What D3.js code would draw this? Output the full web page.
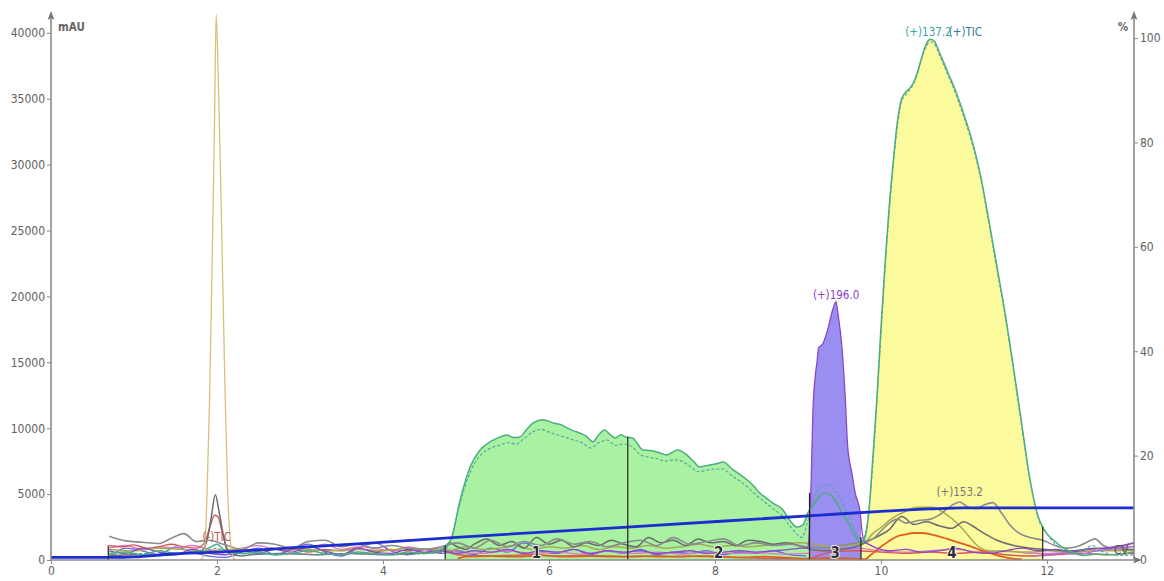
<!DOCTYPE html>
<html>
<head>
<meta charset="utf-8">
<script src="https://cdn.jsdelivr.net/npm/d3@7"></script>
<style>
  body { margin: 0; background: #ffffff; }
  svg { display: block; font-family: "DejaVu Sans Condensed", "DejaVu Sans", sans-serif; }
</style>
</head>
<body>
<svg id="chart" width="1164" height="581"></svg>
<script>
// ---- axis settings (values) ----
const timeTicks = [0, 2, 4, 6, 8, 10, 12];
const mauTicks = [0, 5000, 10000, 15000, 20000, 25000, 30000, 35000, 40000];
const pctTicks = [0, 20, 40, 60, 80, 100];

// ---- fractions ----
const fractionBounds = [0.69, 4.75, 6.95, 9.14, 9.76, 11.95];
const fractionMarkHeights = [1100, 1100, 9350, 5100, 1750, 2500];
const fractionLabels = ["1", "2", "3", "4"];

// ---- solvent gradient, % B ----
const gradient = [[0, 0.5], [0.75, 0.5], [1.0, 0.6], [1.47, 1.15], [2.28, 1.7], [3.08, 2.5], [3.88, 3.3], [4.93, 4.4],
  [6.94, 6.3], [9.27, 8.6], [10.0, 9.3], [10.6, 9.8], [11.0, 10.0], [13.05, 10.0]];

// ---- UV spike (254 nm) ----
const uvTrace = [[1.80, 0], [1.84, 300], [1.86, 1500], [1.88, 5000], [1.91, 12000], [1.94, 22000], [1.97, 33000],
  [1.99, 41400], [2.01, 38000], [2.04, 30000], [2.07, 21000], [2.10, 12000], [2.13, 5000], [2.16, 1500], [2.19, 300], [2.22, 0]];

// ---- (+)TIC, solid ----
const ticPos = [[0.7, 500], [0.9, 600], [1.1, 400], [1.3, 700], [1.5, 500], [1.7, 600], [1.9, 900], [2.0, 1200], [2.1, 700],
  [2.3, 500], [2.5, 600], [2.7, 400], [2.9, 500], [3.1, 700], [3.3, 500], [3.5, 400], [3.7, 600], [3.9, 500], [4.1, 400],
  [4.3, 600], [4.5, 500], [4.7, 800], [4.75, 1000], [4.83, 1750], [4.93, 4550], [5.05, 7060], [5.17, 8350], [5.29, 8960],
  [5.4, 9300], [5.49, 9490], [5.57, 9300], [5.65, 9340], [5.73, 9900], [5.81, 10400], [5.93, 10650], [6.05, 10400],
  [6.13, 10300], [6.22, 10020], [6.3, 9800], [6.37, 9640], [6.45, 9400], [6.53, 8960], [6.6, 9500], [6.67, 9870],
  [6.74, 9500], [6.8, 9260], [6.87, 9500], [6.92, 9340], [7.01, 9260], [7.07, 8800], [7.13, 8350], [7.22, 8300],
  [7.3, 8200], [7.42, 7970], [7.55, 8350], [7.66, 7970], [7.74, 7500], [7.82, 7060], [7.94, 7210], [8.02, 7300],
  [8.1, 7440], [8.22, 6830], [8.3, 6500], [8.39, 6070], [8.47, 5600], [8.54, 5080], [8.62, 4700], [8.7, 4320],
  [8.82, 3800], [8.9, 3040], [8.99, 2500], [9.06, 2660], [9.12, 3570], [9.2, 4300], [9.27, 4900], [9.33, 5080],
  [9.4, 4900], [9.47, 4300], [9.53, 3600], [9.59, 3040], [9.66, 2200], [9.72, 1520], [9.78, 1300], [9.82, 2000],
  [9.86, 4000], [9.9, 7500], [9.95, 12100], [10.0, 17500], [10.05, 22500], [10.1, 26800], [10.15, 30300],
  [10.2, 33300], [10.25, 35000], [10.3, 35500], [10.35, 35800], [10.4, 36300], [10.45, 37200], [10.5, 38300],
  [10.55, 39200], [10.6, 39500], [10.65, 39300], [10.7, 38600], [10.8, 37100], [10.9, 35600], [11.0, 33800],
  [11.1, 31800], [11.2, 29200], [11.3, 25800], [11.4, 22200], [11.5, 18600], [11.6, 14500], [11.7, 10200],
  [11.8, 6000], [11.9, 3200], [11.95, 2500], [12.0, 2000], [12.1, 1400], [12.2, 900], [12.3, 600], [12.45, 350],
  [12.6, 450], [12.8, 400], [12.95, 500], [13.05, 600]];

// ---- (+)137.2, dashed ----
const ion137 = [[0.7, 400], [1.0, 500], [1.3, 450], [1.6, 550], [1.9, 700], [2.0, 900], [2.1, 600], [2.4, 450], [2.8, 500],
  [3.2, 400], [3.6, 500], [4.0, 400], [4.4, 450], [4.7, 600], [4.8, 1200], [4.9, 3600], [5.0, 5800], [5.1, 7300],
  [5.2, 8100], [5.3, 8500], [5.4, 8700], [5.5, 8900], [5.6, 8800], [5.7, 9200], [5.8, 9700], [5.9, 9900], [6.0, 9700],
  [6.1, 9500], [6.2, 9300], [6.3, 9100], [6.4, 8900], [6.5, 8500], [6.6, 8900], [6.7, 9100], [6.8, 8700], [6.9, 8800],
  [7.0, 8600], [7.1, 8000], [7.2, 7800], [7.3, 7700], [7.4, 7500], [7.5, 7600], [7.6, 7500], [7.7, 7100], [7.8, 6700],
  [7.9, 6800], [8.0, 6900], [8.1, 6900], [8.2, 6400], [8.3, 6000], [8.4, 5500], [8.5, 4900], [8.6, 4400], [8.7, 3900],
  [8.8, 3400], [8.9, 2600], [9.0, 1900], [9.05, 1700], [9.1, 2500], [9.15, 3700], [9.2, 4800], [9.3, 5600], [9.36, 5750],
  [9.45, 5300], [9.55, 4200], [9.65, 2800], [9.72, 1800], [9.78, 1500], [9.84, 3000], [9.9, 7000], [9.95, 11800],
  [10.0, 17000], [10.05, 22000], [10.1, 26400], [10.15, 30000], [10.2, 33000], [10.25, 34800], [10.3, 35300],
  [10.35, 35700], [10.4, 36200], [10.45, 37100], [10.5, 38200], [10.55, 39000], [10.6, 39300], [10.65, 39100],
  [10.7, 38400], [10.8, 36900], [10.9, 35400], [11.0, 33600], [11.1, 31600], [11.2, 29000], [11.3, 25600],
  [11.4, 22000], [11.5, 18400], [11.6, 14300], [11.7, 10000], [11.8, 5900], [11.9, 3100], [12.0, 2000], [12.1, 1200],
  [12.2, 700], [12.3, 500], [12.45, 800], [12.55, 1100], [12.65, 700], [12.8, 400], [12.95, 350], [13.05, 400]];

// ---- (+)196.0 ----
const ion196 = [[0.7, 700], [0.9, 500], [1.1, 900], [1.3, 600], [1.5, 400], [1.7, 800], [1.9, 500], [2.1, 400], [2.3, 700],
  [2.5, 500], [2.7, 800], [2.9, 600], [3.1, 1000], [3.3, 700], [3.5, 400], [3.7, 900], [3.9, 600], [4.1, 500], [4.3, 800],
  [4.5, 600], [4.7, 700], [4.9, 500], [5.1, 700], [5.3, 600], [5.5, 800], [5.7, 500], [5.9, 700], [6.1, 600], [6.3, 800],
  [6.5, 500], [6.7, 700], [6.9, 600], [7.1, 700], [7.3, 500], [7.5, 600], [7.7, 700], [7.9, 500], [8.1, 600], [8.3, 700],
  [8.5, 600], [8.7, 700], [8.9, 800], [9.05, 900], [9.12, 900], [9.13, 1500], [9.16, 6000], [9.18, 11100],
  [9.21, 14000], [9.23, 15000], [9.25, 16100], [9.3, 16400], [9.36, 17500], [9.42, 19000], [9.46, 19600],
  [9.48, 18800], [9.53, 16200], [9.57, 12400], [9.6, 8600], [9.65, 6600], [9.69, 5100], [9.75, 3600], [9.77, 2300],
  [9.8, 1400], [9.85, 1200], [9.95, 900], [10.1, 700], [10.3, 800], [10.5, 600], [10.7, 700], [10.9, 900], [11.1, 600],
  [11.3, 500], [11.5, 700], [11.7, 900], [11.9, 700], [12.1, 800], [12.3, 600], [12.5, 800], [12.7, 900], [12.9, 1100],
  [13.05, 1300]];

// ---- (+)153.2 ----
const ion153 = [[0.7, 1800], [0.9, 1450], [1.1, 1350], [1.3, 1250], [1.45, 1650], [1.6, 2000], [1.75, 1400], [1.9, 1500],
  [2.1, 1150], [2.3, 800], [2.5, 1300], [2.7, 1200], [2.9, 900], [3.1, 1400], [3.3, 1500], [3.5, 1000], [3.7, 1200],
  [3.9, 900], [4.1, 1100], [4.3, 900], [4.5, 800], [4.7, 1000], [4.9, 1300], [5.1, 900], [5.3, 1500], [5.5, 1000],
  [5.7, 1400], [5.9, 1100], [6.1, 1600], [6.3, 1200], [6.5, 1400], [6.7, 1000], [6.9, 1300], [7.1, 1500], [7.3, 1100],
  [7.5, 1700], [7.7, 1200], [7.9, 1400], [8.1, 1600], [8.3, 1100], [8.5, 1300], [8.7, 1100], [8.9, 1200], [9.1, 1000],
  [9.3, 900], [9.5, 1100], [9.7, 1300], [9.9, 1600], [10.0, 2200], [10.1, 2800], [10.2, 3100], [10.3, 2800],
  [10.45, 3000], [10.6, 3100], [10.7, 3400], [10.8, 3900], [10.9, 4300], [10.95, 4400], [11.05, 4000], [11.15, 3900],
  [11.25, 4200], [11.35, 4350], [11.45, 3600], [11.55, 2700], [11.65, 2100], [11.8, 1700], [11.95, 1500], [12.1, 1100],
  [12.25, 900], [12.4, 1100], [12.5, 1400], [12.58, 1600], [12.68, 1100], [12.8, 900], [12.95, 1100], [13.05, 1300]];

// ---- (-)TIC ----
const ticNeg = [[0.7, 1100], [0.85, 1000], [1.0, 1150], [1.15, 900], [1.3, 1000], [1.45, 1200], [1.6, 1000], [1.75, 900],
  [1.85, 1300], [1.92, 2600], [1.97, 3400], [2.01, 3300], [2.06, 2200], [2.12, 900], [2.2, 600], [2.35, 800], [2.5, 700],
  [2.65, 900], [2.8, 700], [2.95, 800], [3.1, 600], [3.3, 800], [3.5, 700], [3.7, 900], [3.9, 600], [4.1, 800],
  [4.3, 700], [4.5, 800], [4.7, 700], [4.9, 400], [5.2, 300], [5.5, 350], [5.8, 400], [6.1, 300], [6.4, 350], [6.7, 300],
  [7.0, 250], [7.3, 300], [7.6, 250], [7.9, 300], [8.2, 200], [8.5, 150], [8.8, 100], [9.1, 100], [9.4, 600], [9.7, 700],
  [10.0, 600], [10.3, 500], [10.6, 600], [10.9, 500], [11.2, 600], [11.5, 400], [11.8, 300], [12.1, 400], [12.4, 500],
  [12.7, 400], [13.05, 500]];

// ---- (+)229.1 ----
const ion229 = [[0.7, 300], [1.0, 400], [1.3, 350], [1.6, 500], [1.8, 600], [1.88, 1500], [1.93, 3200], [1.98, 4950],
  [2.03, 3500], [2.08, 1800], [2.14, 500], [2.3, 300], [2.4, 400], [2.8, 500], [3.2, 400], [3.6, 500], [4.0, 400],
  [4.4, 500], [4.7, 600], [4.8, 1300], [4.9, 1000], [5.0, 800], [5.1, 1200], [5.25, 1600], [5.4, 1100], [5.55, 1400],
  [5.7, 900], [5.85, 1700], [6.0, 1200], [6.15, 1500], [6.3, 1000], [6.45, 1300], [6.6, 1100], [6.75, 1500],
  [6.9, 1200], [7.05, 1000], [7.2, 1700], [7.35, 1300], [7.5, 1500], [7.65, 1100], [7.8, 1600], [7.95, 1300],
  [8.1, 1400], [8.25, 1100], [8.4, 1500], [8.55, 1400], [8.7, 1200], [8.85, 1300], [9.0, 1100], [9.1, 900], [9.3, 700],
  [9.5, 800], [9.7, 1000], [9.9, 1600], [10.1, 2300], [10.25, 3300], [10.4, 2700], [10.55, 2900], [10.7, 2600],
  [10.85, 2400], [11.0, 2900], [11.1, 2600], [11.25, 2000], [11.4, 1500], [11.6, 1100], [11.8, 900], [12.0, 800],
  [12.3, 700], [12.6, 900], [13.05, 800]];

// ---- (+)181.1 ----
const ion181 = [[0.7, 800], [1.0, 700], [1.3, 900], [1.6, 800], [1.9, 700], [2.2, 800], [2.5, 700], [2.8, 900], [3.1, 800],
  [3.4, 700], [3.7, 800], [4.0, 700], [4.3, 900], [4.6, 800], [4.8, 700], [5.0, 1000], [5.2, 800], [5.4, 900], [5.6, 1100],
  [5.8, 800], [6.0, 1000], [6.2, 900], [6.4, 1100], [6.6, 800], [6.8, 1000], [7.0, 900], [7.2, 1100], [7.4, 900],
  [7.6, 1000], [7.8, 1200], [8.0, 1000], [8.2, 1100], [8.4, 1000], [8.6, 1100], [8.8, 1200], [9.0, 1300], [9.2, 1200],
  [9.4, 1000], [9.6, 1100], [9.8, 1300], [9.9, 2000], [10.0, 2450], [10.1, 3000], [10.2, 3400], [10.3, 3700],
  [10.43, 4000], [10.63, 4000], [10.7, 3800], [10.8, 3400], [10.9, 2900], [11.0, 2250], [11.1, 1500], [11.2, 900],
  [11.3, 700], [11.5, 650], [11.8, 600], [12.0, 700], [12.3, 600], [12.6, 700], [13.05, 700]];

// ---- (-)195.1 ----
const ion195 = [[4.9, 100], [5.0, 250], [5.3, 300], [5.6, 250], [5.9, 350], [6.2, 250], [6.5, 300], [6.8, 250], [7.1, 300],
  [7.4, 250], [7.7, 300], [8.0, 250], [8.3, 200], [8.6, 250], [8.9, 150], [9.1, 100], [9.4, 150], [9.7, 100], [9.8, 50],
  [9.9, 500], [10.0, 1000], [10.1, 1450], [10.2, 1800], [10.3, 1950], [10.4, 2050], [10.5, 2050], [10.6, 1950],
  [10.7, 1800], [10.8, 1600], [10.9, 1400], [11.0, 1200], [11.1, 1000], [11.2, 750], [11.3, 550], [11.4, 350],
  [11.5, 200], [11.6, 100], [11.7, 50]];

// ---- (+)165.1 ----
const ion165 = [[0.7, 900], [0.9, 1100], [1.1, 800], [1.3, 1000], [1.5, 900], [1.7, 1100], [1.9, 800], [2.1, 600],
  [2.3, 900], [2.5, 1100], [2.7, 800], [2.9, 1000], [3.1, 900], [3.3, 1200], [3.5, 800], [3.7, 1000], [3.9, 900],
  [4.1, 700], [4.3, 1000], [4.5, 800], [4.7, 900], [4.9, 600], [5.2, 500], [5.5, 700], [5.8, 500], [6.1, 600], [6.4, 450],
  [6.7, 650], [7.0, 500], [7.3, 600], [7.6, 450], [7.9, 600], [8.2, 500], [8.5, 550], [8.8, 450], [9.1, 500], [9.4, 800],
  [9.7, 900], [10.0, 700], [10.3, 600], [10.6, 700], [10.9, 800], [11.2, 600], [11.5, 700], [11.8, 500], [12.0, 500],
  [12.3, 600], [12.6, 700], [12.8, 900], [13.05, 1000]];

// ---- (+)211.0 ----
const ion211 = [[0.7, 200], [0.9, 900], [1.1, 700], [1.3, 400], [1.5, 1000], [1.7, 600], [1.9, 300], [2.1, 200],
  [2.3, 600], [2.5, 900], [2.7, 400], [2.9, 800], [3.1, 1200], [3.3, 600], [3.5, 300], [3.7, 900], [3.9, 1300],
  [4.1, 700], [4.3, 400], [4.5, 800], [4.7, 500], [4.9, 700], [5.1, 400], [5.3, 900], [5.5, 600], [5.7, 1300],
  [5.9, 700], [6.1, 500], [6.3, 800], [6.5, 400], [6.7, 700], [6.9, 500], [7.1, 800], [7.3, 400], [7.5, 600], [7.7, 500],
  [7.9, 700], [8.1, 400], [8.3, 600], [8.5, 500], [8.7, 700], [8.9, 400], [9.1, 300]];

// ---- CV ----
const cvTrace = [[11.8, 300], [12.0, 400], [12.2, 500], [12.4, 450], [12.6, 700], [12.75, 800], [12.9, 900], [13.05, 1050]];

// ---- layout ----
const svg = d3.select("#chart");
const x = d3.scaleLinear().domain([0, 13.05]).range([51, 1134]);
const y = d3.scaleLinear().domain([0, 41500]).range([560, 13]);
const yPct = d3.scaleLinear().domain([0, 104.8]).range([560, 13]);

const line = d3.line().x(d => x(d[0])).y(d => y(d[1])).curve(d3.curveMonotoneX);
const area = d3.area().x(d => x(d[0])).y0(y(0)).y1(d => y(d[1])).curve(d3.curveMonotoneX);

// clip rectangles for fraction fills
const defs = svg.append("defs");
function clipFor(id, t0, t1) {
  defs.append("clipPath").attr("id", id)
    .append("rect").attr("x", x(t0)).attr("y", 0).attr("width", x(t1) - x(t0)).attr("height", 581);
  return `url(#${id})`;
}

// fraction fills
svg.append("path").datum(ticPos).attr("d", area)
  .attr("fill", "#a8f2a2").attr("clip-path", clipFor("f12", fractionBounds[1], fractionBounds[3]));
svg.append("path").datum(ion196).attr("d", area)
  .attr("fill", "#9a8ef0").attr("clip-path", clipFor("f3", fractionBounds[3], fractionBounds[4]));
svg.append("path").datum(ticPos).attr("d", area)
  .attr("fill", "#fbfa9c").attr("clip-path", clipFor("f4", fractionBounds[4], fractionBounds[5]));

// baseline traces
const traces = [
  { data: ion211, color: "#6a64e6", w: 1.3, dash: null },
  { data: ion165, color: "#dc78c8", w: 1.3, dash: null },
  { data: ticNeg, color: "#d45a5a", w: 1.4, dash: null },
  { data: ion181, color: "#a4ab52", w: 1.5, dash: null },
  { data: ion229, color: "#6b6b6b", w: 1.5, dash: null },
  { data: ion153, color: "#8c8c8c", w: 1.6, dash: null },
  { data: ion195, color: "#e2601e", w: 1.8, dash: null },
  { data: ion196, color: "#8a48c8", w: 1.3, dash: null },
  { data: cvTrace, color: "#b46ad8", w: 1.3, dash: null },
  { data: ion137, color: "#5a9ea8", w: 1.1, dash: "3,2" },
  { data: ticPos, color: "#4cae80", w: 1.5, dash: null },
  { data: uvTrace, color: "#d8c07a", w: 1.3, dash: null }
];
traces.forEach(t => {
  svg.append("path").datum(t.data).attr("d", line)
    .attr("fill", "none").attr("stroke", t.color).attr("stroke-width", t.w)
    .attr("stroke-dasharray", t.dash).attr("stroke-linejoin", "round");
});

// gradient line on the % axis
svg.append("path").datum(gradient)
  .attr("d", d3.line().x(d => x(d[0])).y(d => yPct(d[1])).curve(d3.curveMonotoneX))
  .attr("fill", "none").attr("stroke", "#1c2ed0").attr("stroke-width", 2.8);

// fraction marks
svg.selectAll(".fmark").data(fractionBounds).join("line")
  .attr("x1", d => x(d)).attr("x2", d => x(d))
  .attr("y1", y(0)).attr("y2", (d, i) => y(fractionMarkHeights[i]))
  .attr("stroke", "#222").attr("stroke-width", 1.2);
const fracMid = fractionLabels.map((lab, i) => ({ lab, t: (fractionBounds[i + 1] + fractionBounds[i + 2]) / 2 }));
svg.selectAll(".flab").data(fracMid).join("text")
  .attr("x", d => x(d.t)).attr("y", y(0) - 2)
  .attr("text-anchor", "middle").attr("font-size", 15).attr("font-weight", "bold")
  .attr("fill", "#2e2e2e").attr("stroke", "#ffffff").attr("stroke-width", 1.6)
  .attr("paint-order", "stroke")
  .text(d => d.lab);

// peak labels
function peakOf(arr) { return arr.reduce((a, b) => (b[1] > a[1] ? b : a)); }
const p196 = peakOf(ion196);
svg.append("text").attr("x", x(p196[0])).attr("y", y(p196[1]) - 3)
  .attr("text-anchor", "middle").attr("font-size", 11.5).attr("fill", "#8a3fc4").text("(+)196.0");
const pTic = peakOf(ticPos);
svg.append("text").attr("x", x(pTic[0]) + 21).attr("y", y(pTic[1]) - 3)
  .attr("text-anchor", "end").attr("font-size", 11.5).attr("fill", "#3aa6a8").text("(+)137.2");
svg.append("text").attr("x", x(pTic[0]) + 18).attr("y", y(pTic[1]) - 3)
  .attr("text-anchor", "start").attr("font-size", 11.5).attr("fill", "#2f7d98").text("(+)TIC");
const p153 = peakOf(ion153);
svg.append("text").attr("x", x(p153[0])).attr("y", y(p153[1]) - 6)
  .attr("text-anchor", "middle").attr("font-size", 11.5).attr("fill", "#777").text("(+)153.2");
const pNeg = peakOf(ticNeg);
svg.append("text").attr("x", x(pNeg[0]) - 12).attr("y", y(pNeg[1]) + 26)
  .attr("text-anchor", "start").attr("font-size", 11.5).attr("fill", "#c25a5a").text("(-)TIC");
const cvEnd = cvTrace[cvTrace.length - 1];
svg.append("text").attr("x", x(cvEnd[0]) - 20).attr("y", y(cvEnd[1]) + 8)
  .attr("text-anchor", "start").attr("font-size", 11.5).attr("fill", "#555").text("CV");

// ---- axes ----
const axisColor = "#8a8a8a";
const textColor = "#616161";

const gLeft = svg.append("g").attr("transform", `translate(${x(0)},0)`)
  .call(d3.axisLeft(y).tickValues(mauTicks).tickSize(4).tickPadding(2).tickFormat(d3.format("d")));
const gBottom = svg.append("g").attr("transform", `translate(0,${y(0)})`)
  .call(d3.axisBottom(x).tickValues(timeTicks).tickSize(4).tickPadding(2).tickFormat(d3.format("d")));
const gRight = svg.append("g").attr("transform", `translate(${x.range()[1]},0)`)
  .call(d3.axisRight(yPct).tickValues(pctTicks).tickSize(4).tickPadding(2).tickFormat(d3.format("d")));
[gLeft, gBottom, gRight].forEach(g => {
  g.select(".domain").remove();
  g.selectAll("line").attr("stroke", axisColor);
  g.selectAll("text").attr("fill", textColor).attr("font-size", 12)
    .attr("font-family", "'DejaVu Sans Condensed', 'DejaVu Sans', sans-serif");
});

// axis lines with arrow heads
svg.append("line").attr("x1", x(0)).attr("x2", x(0)).attr("y1", y(0)).attr("y2", 15)
  .attr("stroke", axisColor).attr("stroke-width", 1.6);
svg.append("line").attr("x1", x(0)).attr("x2", 1136).attr("y1", y(0)).attr("y2", y(0))
  .attr("stroke", axisColor).attr("stroke-width", 1.6);
svg.append("line").attr("x1", x.range()[1]).attr("x2", x.range()[1]).attr("y1", y(0)).attr("y2", 15)
  .attr("stroke", axisColor).attr("stroke-width", 1.6);
const arrow = (px, py, dir) => {
  const pts = dir === "up"
    ? [[px, py - 2], [px - 3.5, py + 7], [px, py + 5], [px + 3.5, py + 7]]
    : [[px + 2, py], [px - 7, py - 3.5], [px - 5, py], [px - 7, py + 3.5]];
  svg.append("path").attr("d", "M" + pts.join("L") + "Z").attr("fill", "#777");
};
arrow(x(0), 13, "up");
arrow(x.range()[1], 13, "up");
arrow(1140, y(0), "right");

// unit labels
svg.append("text").attr("x", x(0) + 7).attr("y", 31).attr("font-size", 11.5).attr("font-weight", "bold")
  .attr("fill", "#666").text("mAU");
svg.append("text").attr("x", x.range()[1] - 6).attr("y", 31).attr("text-anchor", "end")
  .attr("font-size", 11.5).attr("font-weight", "bold").attr("fill", "#666").text("%");
</script>
</body>
</html>
